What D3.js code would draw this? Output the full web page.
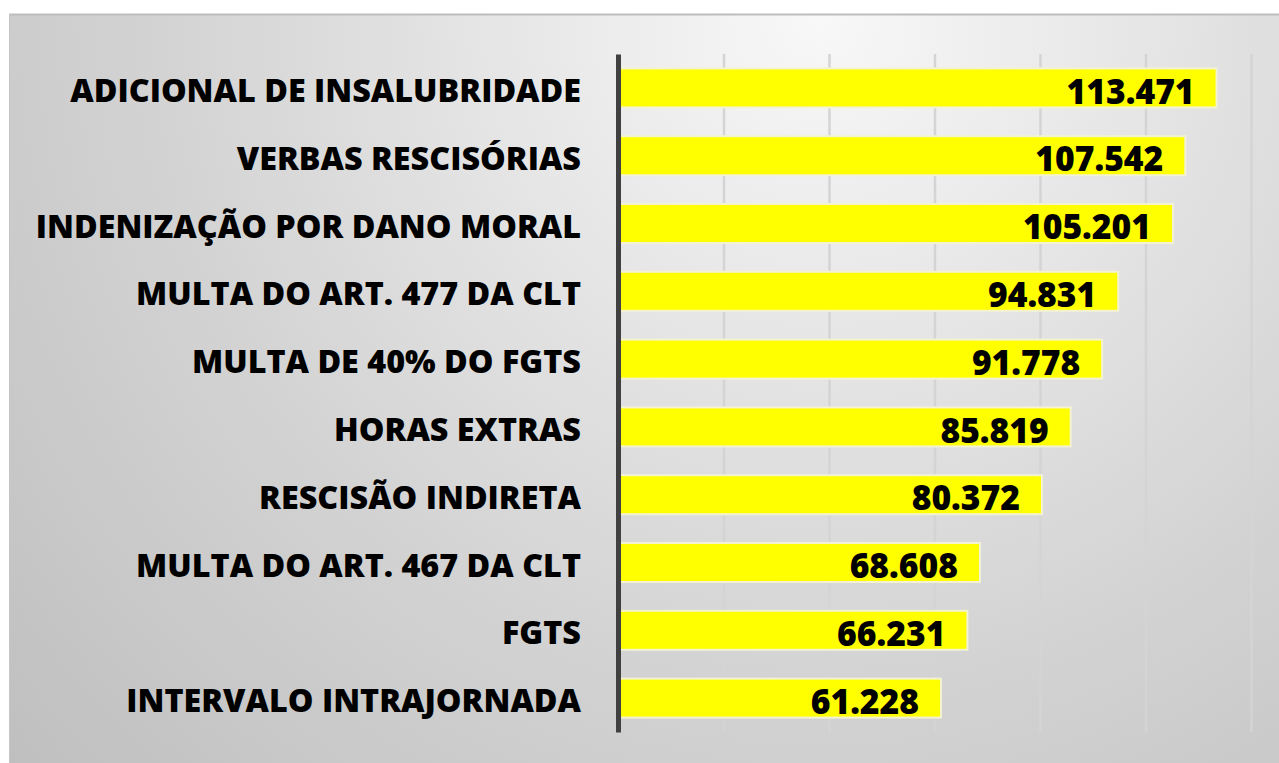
<!DOCTYPE html>
<html>
<head>
<meta charset="utf-8">
<script src="https://cdn.jsdelivr.net/npm/d3@7"></script>
<style>
  html, body { margin: 0; padding: 0; background: #ffffff; }
  svg { display: block; }
</style>
</head>
<body>
<svg id="chart" width="1279" height="763"></svg>
<script>
const categories = [
  "ADICIONAL DE INSALUBRIDADE",
  "VERBAS RESCISÓRIAS",
  "INDENIZAÇÃO POR DANO MORAL",
  "MULTA DO ART. 477 DA CLT",
  "MULTA DE 40% DO FGTS",
  "HORAS EXTRAS",
  "RESCISÃO INDIRETA",
  "MULTA DO ART. 467 DA CLT",
  "FGTS",
  "INTERVALO INTRAJORNADA"
];
const values = [113.471, 107.542, 105.201, 94.831, 91.778, 85.819, 80.372, 68.608, 66.231, 61.228];
const valueLabels = ["113.471", "107.542", "105.201", "94.831", "91.778", "85.819", "80.372", "68.608", "66.231", "61.228"];
const tickValues = [0, 20, 40, 60, 80, 100, 120];

const svg = d3.select("#chart");
const W = 1279, H = 763;
const defs = svg.append("defs");

const bg = defs.append("radialGradient").attr("id", "bg")
  .attr("gradientUnits", "userSpaceOnUse")
  .attr("cx", 820).attr("cy", 20).attr("r", 1100);
bg.append("stop").attr("offset", 0).attr("stop-color", "#f8f8f8");
bg.append("stop").attr("offset", 0.6).attr("stop-color", "#d3d3d3");
bg.append("stop").attr("offset", 1).attr("stop-color", "#bfbfbf");

const gridGrad = defs.append("linearGradient").attr("id", "gridg")
  .attr("gradientUnits", "userSpaceOnUse")
  .attr("x1", 0).attr("y1", 54).attr("x2", 0).attr("y2", 732);
gridGrad.append("stop").attr("offset", 0).attr("stop-color", "#d4d4d4");
gridGrad.append("stop").attr("offset", 1).attr("stop-color", "#868686");

// panel
svg.append("rect").attr("x", 9).attr("y", 14).attr("width", W - 9).attr("height", H - 14)
  .attr("fill", "url(#bg)");
svg.append("line").attr("x1", 9).attr("x2", W).attr("y1", 14.5).attr("y2", 14.5)
  .attr("stroke", "#bdbdbd").attr("stroke-width", 2);
svg.append("line").attr("x1", 9.5).attr("x2", 9.5).attr("y1", 14).attr("y2", H)
  .attr("stroke", "#c6c6c6").attr("stroke-width", 1);

const x = d3.scaleLinear().domain([0, 120]).range([618, 1251]);
const y = d3.scaleBand().domain(categories).range([54, 732])
  .paddingInner(0.425).paddingOuter(0.2125);

// grid
const grid = svg.append("g")
  .attr("transform", "translate(0,732)")
  .call(d3.axisBottom(x).tickValues(tickValues.slice(1)).tickSize(-678).tickFormat(""));
grid.select(".domain").remove();
grid.selectAll(".tick line").attr("stroke", "url(#gridg)").attr("stroke-width", 2.5);

// bars
svg.append("g").selectAll("rect").data(values).join("rect")
  .attr("x", x(0))
  .attr("y", (d, i) => y(categories[i]))
  .attr("width", d => x(d) - x(0))
  .attr("height", y.bandwidth())
  .attr("fill", "#ffff00")
  .attr("stroke", "#f3f3d2")
  .attr("stroke-width", 2);

// axis line
const yAxis = svg.append("g").attr("transform", `translate(${x(0)},0)`)
  .call(d3.axisLeft(y).tickSize(0).tickFormat(""));
yAxis.select(".domain").attr("stroke", "#404040").attr("stroke-width", 5);

// category labels
const catT = svg.append("g").selectAll("text").data(categories).join("text")
  .attr("text-anchor", "end")
  .attr("dominant-baseline", "central")
  .attr("font-family", "'Open Sans', sans-serif")
  .attr("font-weight", 800)
  .attr("font-size", 32.5)
  .attr("fill", "#000")
  .text(d => d);
const w0 = catT.nodes()[0].getComputedTextLength();
const sx = 511 / w0;
catT.attr("transform", (d) => `translate(581,${y(d) + y.bandwidth() / 2 + 1}) scale(${sx},1)`);

// value labels
const valT = svg.append("g").selectAll("text").data(values).join("text")
  .attr("text-anchor", "end")
  .attr("dominant-baseline", "central")
  .attr("font-family", "'Open Sans', sans-serif")
  .attr("font-weight", 800)
  .attr("font-size", 35)
  .attr("fill", "#000")
  .text((d, i) => valueLabels[i]);
const v0 = valT.nodes()[0].getComputedTextLength();
const sv = 128 / v0;
valT.attr("transform", (d, i) => `translate(${x(d) - 22},${y(categories[i]) + y.bandwidth() / 2 + 2}) scale(${sv},1)`);
</script>
</body>
</html>
